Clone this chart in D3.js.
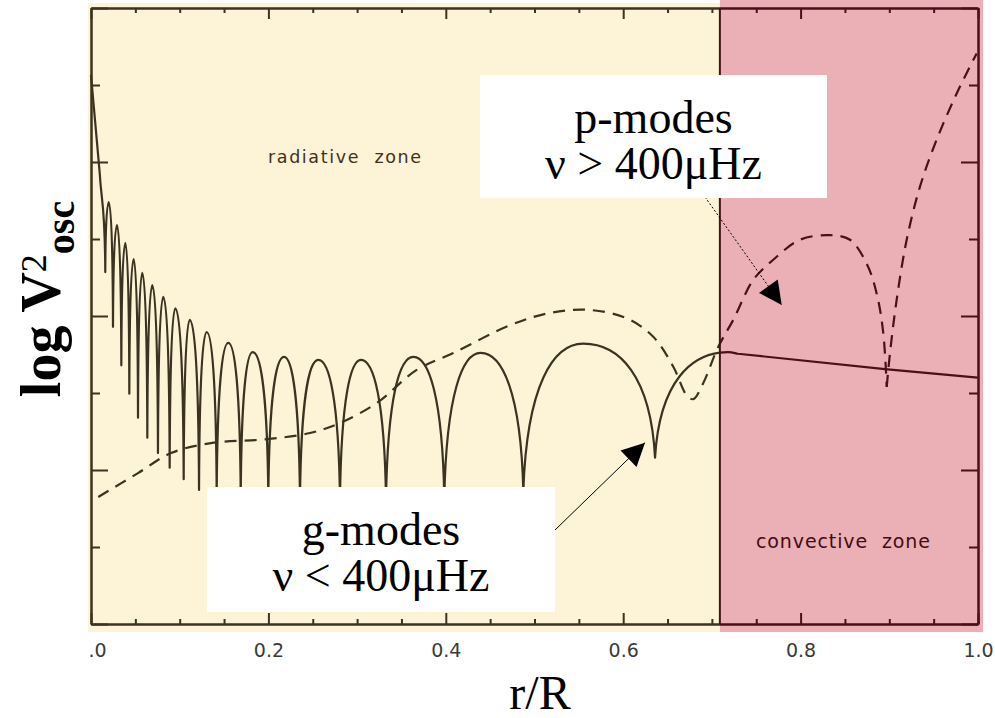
<!DOCTYPE html>
<html>
<head>
<meta charset="utf-8">
<script src="https://cdn.jsdelivr.net/npm/d3@7"></script>
<style>
  body { margin: 0; background: #ffffff; }
  svg { display: block; }
</style>
</head>
<body>
<svg id="chart" width="995" height="718"></svg>
<script>
// Eigenfunctions of an oscillation mode, solar model (log V2 against r/R)

// g-mode curve (solid): r/R, log V2 in tick units, and the shape at each point
var gModeR = [0.000, 0.0098, 0.0161, 0.020, 0.0248, 0.0293, 0.0342, 0.0387, 0.0432, 0.0481,
              0.053, 0.0578, 0.0635, 0.0691, 0.0755, 0.0815, 0.0887, 0.095, 0.1045, 0.1113,
              0.1218, 0.1304, 0.1417, 0.1548, 0.1688, 0.1823, 0.1999, 0.2176, 0.2356, 0.2563,
              0.2807, 0.3044, 0.3326, 0.3634, 0.3983, 0.4393, 0.4874, 0.555, 0.6359, 0.7181,
              0.7294, 0.8951, 0.9997];
var gModeV = [7.13, 5.86, 4.57, 5.48, 3.86, 5.18, 3.36, 4.95, 2.99, 4.74,
              2.68, 4.56, 2.42, 4.40, 2.22, 4.25, 2.03, 4.10, 1.88, 3.95,
              1.74, 3.79, 1.68, 3.65, 1.66, 3.53, 1.64, 3.47, 1.62, 3.43,
              1.62, 3.43, 1.62, 3.47, 1.64, 3.52, 1.73, 3.64, 2.16, 3.53,
              3.51, 3.31, 3.20];
var gModeShape = ['line', 'line', 'cusp', 'peak', 'cusp', 'peak', 'cusp', 'peak', 'cusp', 'peak',
                  'cusp', 'peak', 'cusp', 'peak', 'cusp', 'peak', 'cusp', 'peak', 'cusp', 'peak',
                  'cusp', 'peak', 'cusp', 'peak', 'cusp', 'peak', 'cusp', 'peak', 'cusp', 'peak',
                  'cusp', 'peak', 'cusp', 'peak', 'cusp', 'peak', 'cusp', 'peak', 'cusp', 'peak',
                  'line', 'line', 'line'];

// p-mode curve (dashed)
var pModeR = [0.0082, 0.053, 0.0902, 0.1353, 0.1981, 0.2469, 0.2807, 0.3221, 0.3672, 0.4085,
              0.4724, 0.5175, 0.5607, 0.6039, 0.6339, 0.6565, 0.6716, 0.679, 0.6903, 0.7072,
              0.7241, 0.7467, 0.7692, 0.7993, 0.8331, 0.8557, 0.8745, 0.8858, 0.8932, 0.8971,
              0.9008, 0.9083, 0.9196, 0.9346, 0.9534, 0.976, 0.9985];
var pModeV = [1.65, 1.96, 2.22, 2.35, 2.40, 2.48, 2.61, 2.87, 3.30, 3.52,
              3.88, 4.04, 4.08, 3.97, 3.73, 3.34, 2.97, 2.92, 3.13, 3.60,
              3.95, 4.47, 4.73, 4.99, 5.05, 4.99, 4.68, 4.29, 3.78, 3.08,
              3.52, 4.21, 4.99, 5.68, 6.29, 6.89, 7.41];
var pModeCusp = 0.8971;

// zones
var convectiveBase = 0.709;
var zoneLabels = ['radiative  zone', 'convective  zone'];

// axes
var xMajorTicks = [0, 0.2, 0.4, 0.6, 0.8, 1.0];
var xMinorTicks = [0.05, 0.1, 0.15, 0.25, 0.3, 0.35, 0.45, 0.5, 0.55, 0.65, 0.7, 0.75, 0.85, 0.9, 0.95];
var yMajorTicks = [0, 2, 4, 6, 8];
var yMinorTicks = [1, 3, 5, 7];

// annotations
var gNote = { lines: ['g-modes', 'ν < 400μHz'], tipR: 0.6246, tipV: 2.355 };
var pNote = { lines: ['p-modes', 'ν > 400μHz'], tipR: 0.7787, tipV: 4.143 };

var radColor = '#3b3321';
var convColor = '#4b0f1b';

var svg = d3.select('#chart');
var x = d3.scaleLinear().domain([0, 1]).range([91, 978]);
var y = d3.scaleLinear().domain([0, 8]).range([624, 8]);
var xb = x(convectiveBase);

// backgrounds
svg.append('rect').attr('x', 88).attr('y', 3).attr('width', xb - 88).attr('height', 629)
    .attr('fill', '#fdf3d7');
svg.append('rect').attr('x', xb).attr('y', 0).attr('width', 983 - xb).attr('height', 632)
    .attr('fill', '#ebb0b5');

var defs = svg.append('defs');
defs.append('clipPath').attr('id', 'clip-rad')
    .append('rect').attr('x', 0).attr('y', 0).attr('width', xb).attr('height', 718);
defs.append('clipPath').attr('id', 'clip-conv')
    .append('rect').attr('x', xb).attr('y', 0).attr('width', 995 - xb).attr('height', 718);
defs.append('marker').attr('id', 'head')
    .attr('viewBox', '0 0 10 10').attr('refX', 10).attr('refY', 5)
    .attr('markerWidth', 33).attr('markerHeight', 23)
    .attr('markerUnits', 'userSpaceOnUse').attr('orient', 'auto')
    .append('path').attr('d', 'M0,0 L10,5 L0,10 Z').attr('fill', '#000').attr('stroke', 'none');

// control point for a bezier leaving point (px,py) towards (px+dx, py+dy)
function ctrl(shape, px, py, dx, dy) {
    if (shape === 'peak') return [px + dx * 0.5, py];
    if (shape === 'cusp') return [px + dx * 0.06, py + dy * 0.72];
    return [px + dx / 3, py + dy / 3];
}

function gModePath() {
    var p = d3.path();
    for (var i = 0; i < gModeR.length; i++) {
        var px = x(gModeR[i]), py = y(gModeV[i]);
        if (i === 0) { p.moveTo(px, py); continue; }
        var ax = x(gModeR[i - 1]), ay = y(gModeV[i - 1]);
        var c1 = ctrl(gModeShape[i - 1], ax, ay, px - ax, py - ay);
        var c2 = ctrl(gModeShape[i], px, py, ax - px, ay - py);
        p.bezierCurveTo(c1[0], c1[1], c2[0], c2[1], px, py);
    }
    return p.toString();
}

var pPoints = pModeR.map(function(r, i) { return [r, pModeV[i]]; });
var pLine = d3.line()
    .x(function(d) { return x(d[0]); })
    .y(function(d) { return y(d[1]); })
    .curve(d3.curveCatmullRom.alpha(0.5));
var pPieces = [
    pPoints.filter(function(d) { return d[0] <= pModeCusp; }),
    pPoints.filter(function(d) { return d[0] >= pModeCusp; })
];

// curves and frame, drawn once per zone with the zone colour
[['clip-rad', radColor], ['clip-conv', convColor]].forEach(function(z) {
    var g = svg.append('g').attr('clip-path', 'url(#' + z[0] + ')');

    g.append('path').attr('d', gModePath())
        .attr('fill', 'none').attr('stroke', z[1]).attr('stroke-width', 2.2)
        .attr('stroke-linejoin', 'round');

    g.selectAll('path.pmode').data(pPieces).enter().append('path')
        .attr('class', 'pmode')
        .attr('d', pLine)
        .attr('fill', 'none').attr('stroke', z[1]).attr('stroke-width', 2.2)
        .attr('stroke-dasharray', '12,8');

    var axes = [
        [d3.axisBottom(x).tickValues(xMajorTicks).tickSize(-11), 'translate(0,624)'],
        [d3.axisBottom(x).tickValues(xMinorTicks).tickSize(-5), 'translate(0,624)'],
        [d3.axisTop(x).tickValues(xMajorTicks).tickSize(-11), 'translate(0,8)'],
        [d3.axisTop(x).tickValues(xMinorTicks).tickSize(-5), 'translate(0,8)'],
        [d3.axisLeft(y).tickValues(yMajorTicks).tickSize(-17), 'translate(91,0)'],
        [d3.axisLeft(y).tickValues(yMinorTicks).tickSize(-9), 'translate(91,0)'],
        [d3.axisRight(y).tickValues(yMajorTicks).tickSize(-17), 'translate(978,0)'],
        [d3.axisRight(y).tickValues(yMinorTicks).tickSize(-9), 'translate(978,0)']
    ];
    axes.forEach(function(a) {
        var ax = g.append('g').attr('transform', a[1])
            .call(a[0].tickSizeOuter(0).tickFormat(''));
        ax.select('.domain').attr('stroke', z[1]).attr('stroke-width', 2);
        ax.selectAll('.tick line').attr('stroke', z[1]).attr('stroke-width', 2);
        ax.selectAll('.tick text').remove();
    });
});

// base of the convective zone
svg.append('line').attr('x1', xb).attr('x2', xb).attr('y1', 8).attr('y2', 624)
    .attr('stroke', convColor).attr('stroke-width', 2);

// x tick labels
var xLabels = svg.append('g').attr('transform', 'translate(0,624)')
    .call(d3.axisBottom(x).tickValues(xMajorTicks).tickSize(0).tickPadding(20)
        .tickFormat(function(d) { return d === 0 ? '.0' : d3.format('.1f')(d); }));
xLabels.select('.domain').remove();
xLabels.selectAll('text')
    .attr('font-family', 'DejaVu Sans, sans-serif').attr('font-size', 19)
    .attr('fill', '#3a3a3a');
xLabels.selectAll('text').filter(function(d) { return d === 0; })
    .attr('text-anchor', 'start').attr('x', -3);

// zone labels
svg.append('text').attr('x', 344.5).attr('y', 163).attr('text-anchor', 'middle')
    .attr('font-family', 'DejaVu Sans, sans-serif').attr('font-size', 17.5)
    .attr('textLength', 153).attr('lengthAdjust', 'spacing')
    .style('white-space', 'pre')
    .attr('fill', '#3f3220').text(zoneLabels[0]);
svg.append('text').attr('x', 843).attr('y', 548).attr('text-anchor', 'middle')
    .attr('font-family', 'DejaVu Sans, sans-serif').attr('font-size', 19)
    .attr('textLength', 174).attr('lengthAdjust', 'spacing')
    .style('white-space', 'pre')
    .attr('fill', '#440a16').text(zoneLabels[1]);

// annotation boxes and arrows
function note(n, box, start, dashed) {
    svg.append('line')
        .attr('x1', start[0]).attr('y1', start[1])
        .attr('x2', x(n.tipR)).attr('y2', y(n.tipV))
        .attr('stroke', '#000').attr('stroke-width', 1)
        .attr('stroke-dasharray', dashed ? '2,2' : null)
        .attr('marker-end', 'url(#head)');
    svg.append('rect').attr('x', box[0]).attr('y', box[1])
        .attr('width', box[2]).attr('height', box[3]).attr('fill', '#ffffff');
    n.lines.forEach(function(t, i) {
        svg.append('text')
            .attr('x', box[0] + box[2] / 2).attr('y', box[1] + 58 + i * 46)
            .attr('text-anchor', 'middle')
            .attr('font-family', 'Liberation Serif, serif').attr('font-size', 46)
            .attr('fill', '#000').text(t);
    });
}
note(pNote, [480, 75, 347, 123], [705, 197], true);
note(gNote, [207, 487, 348, 125], [555, 530], false);

// axis titles
svg.append('text').attr('x', 540).attr('y', 709).attr('text-anchor', 'middle')
    .attr('font-family', 'Liberation Serif, serif').attr('font-size', 48)
    .attr('fill', '#000').text('r/R');

var yTitle = svg.append('text')
    .attr('transform', 'translate(60,299) rotate(-90)')
    .attr('text-anchor', 'middle')
    .attr('font-family', 'Liberation Serif, serif').attr('font-weight', 'bold')
    .attr('fill', '#000');
yTitle.append('tspan').attr('font-size', 56).text('log V');
yTitle.append('tspan').attr('font-size', 36).attr('font-weight', 'normal').attr('dy', -14).text('2');
yTitle.append('tspan').attr('font-size', 40).attr('dy', 28).text('osc');
</script>
</body>
</html>
